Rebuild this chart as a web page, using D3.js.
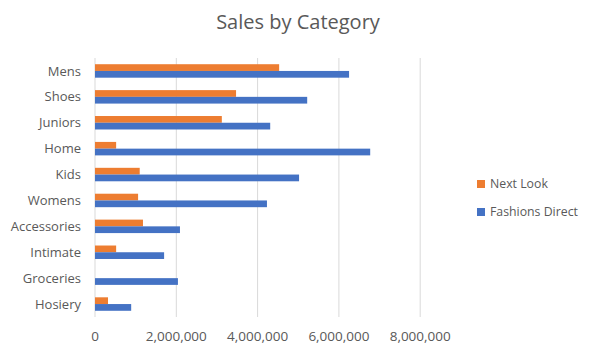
<!DOCTYPE html>
<html>
<head>
<meta charset="utf-8">
<script src="https://cdn.jsdelivr.net/npm/d3@7"></script>
<style>
  body { margin: 0; background: #fff; }
  text { font-family: "Open Sans", sans-serif; fill: #595959; }
</style>
</head>
<body>
<div id="chart"></div>
<script>
const categories = ["Mens", "Shoes", "Juniors", "Home", "Kids", "Womens", "Accessories", "Intimate", "Groceries", "Hosiery"];
const nextLook = [4530000, 3470000, 3120000, 520000, 1100000, 1060000, 1180000, 520000, 0, 320000];
const fashionsDirect = [6250000, 5220000, 4310000, 6770000, 5020000, 4230000, 2090000, 1700000, 2040000, 890000];
const xTicks = [0, 2000000, 4000000, 6000000, 8000000];
const seriesNames = ["Next Look", "Fashions Direct"];
const seriesColors = ["#ED7D31", "#4472C4"];

const width = 597, height = 355;
const margin = { top: 58, left: 95, right: 177, bottom: 38 };

const svg = d3.select("#chart").append("svg")
    .attr("width", width)
    .attr("height", height);

const x = d3.scaleLinear()
    .domain([0, 8000000])
    .range([margin.left, margin.left + 325.2]);

const y = d3.scaleBand()
    .domain(categories)
    .range([margin.top, height - margin.bottom])
    .paddingInner(0.48)
    .paddingOuter(0.24);

const inner = d3.scaleBand()
    .domain(seriesNames)
    .range([0, y.bandwidth()]);

// gridlines
svg.append("g")
    .selectAll("line")
    .data(xTicks)
    .join("line")
    .attr("x1", d => x(d))
    .attr("x2", d => x(d))
    .attr("y1", margin.top)
    .attr("y2", height - margin.bottom)
    .attr("stroke", "#d9d9d9")
    .attr("stroke-width", 1);

const series = [nextLook, fashionsDirect];

series.forEach((vals, s) => {
    svg.append("g")
        .selectAll("rect")
        .data(categories)
        .join("rect")
        .attr("x", x(0))
        .attr("y", d => y(d) + inner(seriesNames[s]))
        .attr("width", (d, i) => x(vals[i]) - x(0))
        .attr("height", inner.bandwidth())
        .attr("fill", seriesColors[s]);
});

// category labels
svg.append("g")
    .selectAll("text")
    .data(categories)
    .join("text")
    .attr("x", margin.left - 14)
    .attr("y", d => y(d) + y.bandwidth() / 2)
    .attr("dy", "0.35em")
    .attr("text-anchor", "end")
    .style("font-size", "13px")
    .text(d => d);

// x tick labels
svg.append("g")
    .selectAll("text")
    .data(xTicks)
    .join("text")
    .attr("x", d => x(d))
    .attr("y", 341)
    .attr("text-anchor", "middle")
    .style("font-size", "13.5px")
    .text(d => d3.format(",")(d));

// title
svg.append("text")
    .attr("x", 298)
    .attr("y", 29)
    .attr("text-anchor", "middle")
    .style("font-size", "20px")
    .text("Sales by Category");

// legend
const legend = svg.append("g")
    .selectAll("g")
    .data(seriesNames)
    .join("g")
    .attr("transform", (d, i) => `translate(477,${180 + i * 28})`);

legend.append("rect")
    .attr("width", 8)
    .attr("height", 8)
    .attr("fill", (d, i) => seriesColors[i]);

legend.append("text")
    .attr("x", 13)
    .attr("y", 4)
    .attr("dy", "0.35em")
    .style("font-size", "12.3px")
    .text(d => d);
</script>
</body>
</html>
